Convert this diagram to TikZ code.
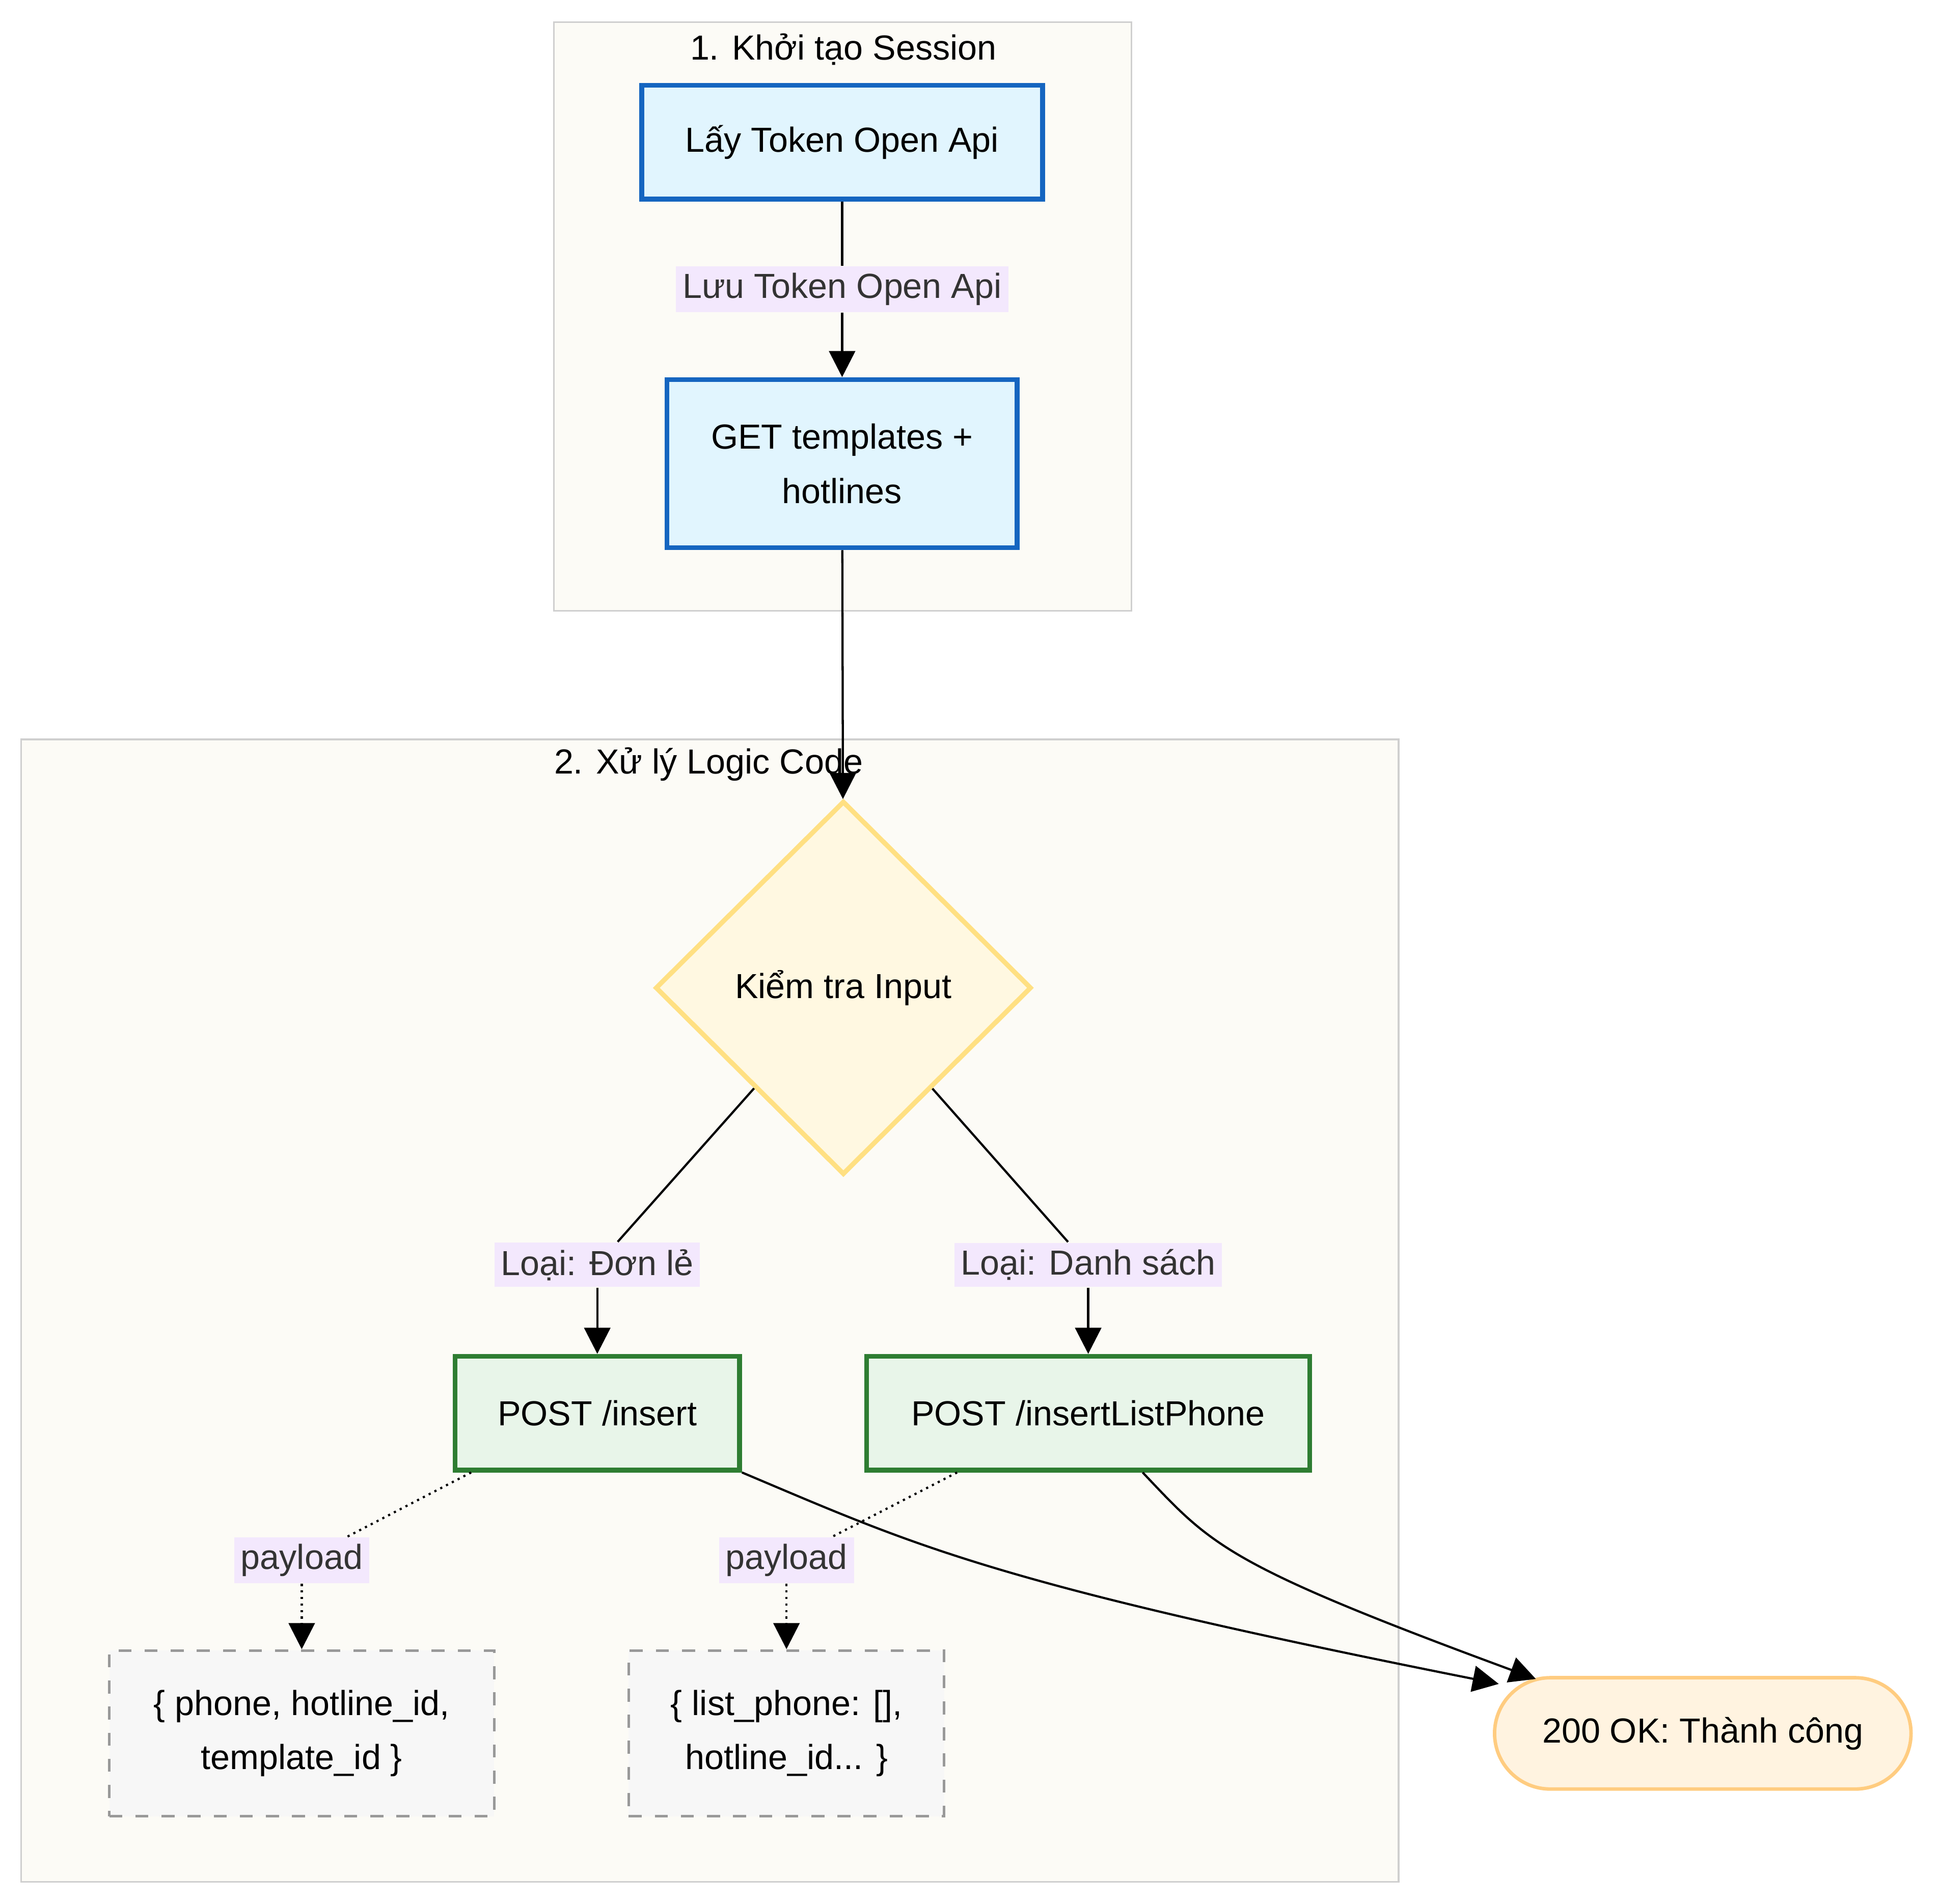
\documentclass[tikz,border=0pt]{standalone}
\usepackage{fontspec}
\setmainfont{Liberation Sans}
\usetikzlibrary{shapes.geometric, shapes.misc, arrows.meta, positioning}
\definecolor{clbg}{HTML}{FCFBF6}
\definecolor{clbd}{HTML}{CFCFCF}
\definecolor{bluebg}{HTML}{E1F5FE}
\definecolor{bluebd}{HTML}{1565C0}
\definecolor{greenbg}{HTML}{E8F5E9}
\definecolor{greenbd}{HTML}{2E7D32}
\definecolor{yellowbg}{HTML}{FFF8E1}
\definecolor{yellowbd}{HTML}{FFE082}
\definecolor{orangebg}{HTML}{FFF3E0}
\definecolor{orangebd}{HTML}{FFCC80}
\definecolor{lblbg}{HTML}{F3E8FD}
\tikzset{
  box/.style={draw, line width=1.1pt, minimum height=0.92cm, align=center, font=\fontsize{8}{12.5}\selectfont},
  api/.style={box, fill=bluebg, draw=bluebd},
  post/.style={box, fill=greenbg, draw=greenbd},
  data/.style={box, fill=gray!6, draw=gray!80, dashed, line width=0.6pt},
  lbl/.style={fill=lblbg, inner sep=1.5pt, font=\fontsize{8}{10}\selectfont, text=black!80},
  arr/.style={-{Triangle[length=6pt, width=6pt]}, line width=0.5pt},
  ln/.style={line width=0.5pt}
}
\begin{document}
\begin{tikzpicture}[x=0.01cm, y=-0.01cm]
        \useasboundingbox (0,0) rectangle (1568,1540);
        % clusters
        \draw [fill=clbg, draw=clbd] (448,18) rectangle (915,494);
        \node [font=\fontsize{8}{10}\selectfont] (T1) at (682,40) {1. Khởi tạo Session};
        \draw [fill=clbg, draw=clbd] (17,598) rectangle (1131,1522);
        \node [font=\fontsize{8}{10}\selectfont] (T2) at (573,618) {2. Xử lý Logic Code};

        \node [api, minimum width=3.24cm] (TOK) at (681,115) {Lấy Token Open Api};
        \node [lbl] (L1) at (681,234) {Lưu Token Open Api};
        \node [api, minimum width=2.83cm, minimum height=1.36cm] (TPL) at (681,375) {GET templates +\\hotlines};
        \draw [ln] (TOK) -- (L1);
        \draw [arr] (L1) -- (TPL);

        \node [diamond, draw=yellowbd, fill=yellowbg, line width=1.1pt, minimum width=3.04cm, minimum height=3.02cm, inner sep=0pt, font=\fontsize{8}{10}\selectfont] (CHK) at (682,799) {Kiểm tra Input};
        \draw [arr] (TPL) -- (CHK);

        \node [lbl] (L2) at (483,1023) {Loại: Đơn lẻ};
        \node [lbl] (L3) at (880,1023) {Loại: Danh sách};
        \node [post, minimum width=2.30cm] (INS) at (483,1143) {POST /insert};
        \node [post, minimum width=3.58cm] (LST) at (880,1143) {POST /insertListPhone};
        \draw [ln] (CHK) -- (L2);
        \draw [ln] (CHK) -- (L3);
        \draw [arr] (L2) -- (INS);
        \draw [arr] (L3) -- (LST);

        \node [lbl] (P1) at (244,1262) {payload};
        \node [lbl] (P2) at (636,1262) {payload};
        \node [data, minimum width=3.11cm, minimum height=1.34cm] (D1) at (244,1402) {\{ phone, hotline\_id,\\template\_id \}};
        \node [data, minimum width=2.55cm, minimum height=1.34cm] (D2) at (636,1402) {\{ list\_phone: [],\\hotline\_id... \}};
        \draw [ln, densely dotted] (INS.south west) ++(15,0) coordinate (c1) (c1) -- (P1);
        \draw [arr, densely dotted] (P1) -- (D1);
        \draw [ln, densely dotted] (LST.south west) ++(75,0) coordinate (c2) (c2) -- (P2);
        \draw [arr, densely dotted] (P2) -- (D2);

        \node [rounded rectangle, draw=orangebd, fill=orangebg, line width=0.8pt, minimum width=3.6cm, minimum height=0.9cm, font=\fontsize{8}{10}\selectfont] (OK) at (1377,1402) {200 OK: Thành công};
        \coordinate (e1) at (1212,1362);
        \coordinate (e2) at (1242,1358);
        \draw [arr] (INS.south east) .. controls (740,1250) and (800,1280) .. (e1);
        \draw [arr] (LST.south east) ++(-137,0) .. controls (980,1250) and (990,1265) .. (e2);
        \end{tikzpicture}
\end{document}
